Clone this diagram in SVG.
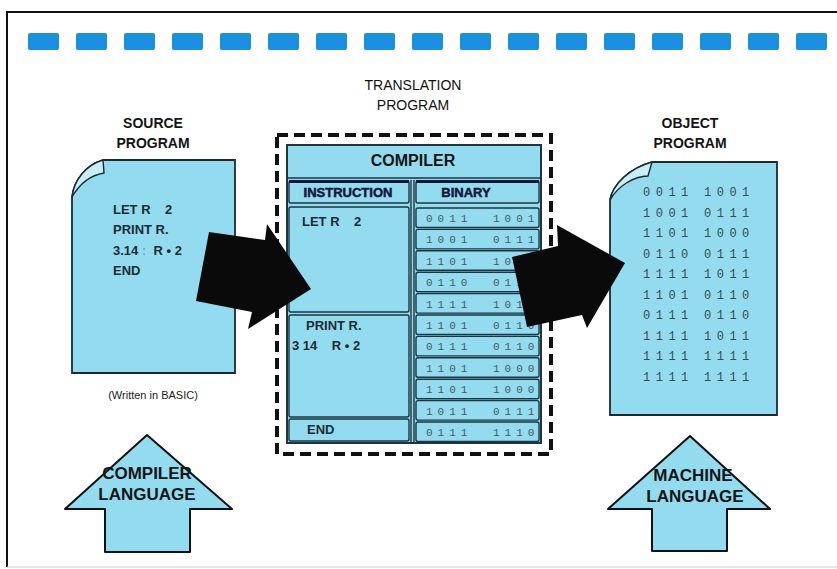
<svg xmlns="http://www.w3.org/2000/svg" width="837" height="569" viewBox="0 0 837 569">
<style>
.lbl{font-family:"Liberation Sans",Arial,sans-serif;font-weight:bold;fill:#141414;text-anchor:middle}
.code{font-family:"Liberation Sans",Arial,sans-serif;font-weight:bold;font-size:13px;fill:#1c2a33;white-space:pre}
.bin{font-family:"Liberation Mono","DejaVu Sans Mono",monospace;font-size:11px;letter-spacing:5px;fill:#4a5a62}
.obin{font-family:"Liberation Mono","DejaVu Sans Mono",monospace;font-size:12px;letter-spacing:5.5px;fill:#3a4a52}
.doc{fill:#93dcef;stroke:#1e2a30;stroke-width:1.8}
.cell{fill:#93dcef;stroke:#1e3440;stroke-width:1.4}
.flap{fill:#c8eff8;stroke:#1e2a30;stroke-width:1.4}
.blk{fill:#0a0a0a}
.dash{fill:#1b8fe0}
.hdr{font-family:"Liberation Sans",Arial,sans-serif;font-weight:900;font-size:13px;fill:#16163a;stroke:#16163a;stroke-width:0.5;text-anchor:middle}
.thin{font-family:"Liberation Sans",Arial,sans-serif;font-size:14px;fill:#111;text-anchor:middle}
</style>
<rect width="837" height="569" fill="#ffffff"/>
<path d="M7,567 L7,12 L837,12" fill="none" stroke="#111" stroke-width="2"/>
<path d="M7,567 L837,567" fill="none" stroke="#cfcfcf" stroke-width="1"/>
<g id="blue-dashes">
<rect class="dash" x="28" y="33" width="31" height="17" rx="2"/>
<rect class="dash" x="76" y="33" width="31" height="17" rx="2"/>
<rect class="dash" x="124" y="33" width="31" height="17" rx="2"/>
<rect class="dash" x="172" y="33" width="31" height="17" rx="2"/>
<rect class="dash" x="220" y="33" width="31" height="17" rx="2"/>
<rect class="dash" x="268" y="33" width="31" height="17" rx="2"/>
<rect class="dash" x="316" y="33" width="31" height="17" rx="2"/>
<rect class="dash" x="364" y="33" width="31" height="17" rx="2"/>
<rect class="dash" x="412" y="33" width="31" height="17" rx="2"/>
<rect class="dash" x="460" y="33" width="31" height="17" rx="2"/>
<rect class="dash" x="508" y="33" width="31" height="17" rx="2"/>
<rect class="dash" x="556" y="33" width="31" height="17" rx="2"/>
<rect class="dash" x="604" y="33" width="31" height="17" rx="2"/>
<rect class="dash" x="652" y="33" width="31" height="17" rx="2"/>
<rect class="dash" x="700" y="33" width="31" height="17" rx="2"/>
<rect class="dash" x="748" y="33" width="31" height="17" rx="2"/>
<rect class="dash" x="796" y="33" width="31" height="17" rx="2"/>
</g>

<g id="source-program">
<text class="lbl" x="153" y="128" font-size="14">SOURCE</text>
<text class="lbl" x="153" y="148" font-size="14">PROGRAM</text>
<path class="doc" d="M103,160 L235,160 L235,373 L72,373 L72,197 C74,180 86,165 103,160 Z"/>
<path class="flap" d="M72,197 C80,183 92,175 104,173 L103,160 C86,165 74,180 72,197 Z"/>
<text class="code" x="113" y="214">LET R    2</text>
<text class="code" x="113" y="234">PRINT R.</text>
<text class="code" x="113" y="255">3.14 <tspan fill="#8aa0a8">:</tspan>  R • 2</text>
<text class="code" x="113" y="275">END</text>
<text x="153" y="399" font-family="Liberation Sans,Arial,sans-serif" font-size="11" fill="#222" text-anchor="middle">(Written in BASIC)</text>
</g>

<g id="translation-program">
<text class="thin" x="413" y="90">TRANSLATION</text>
<text class="thin" x="413" y="110">PROGRAM</text>
<rect x="277" y="135" width="274" height="319" fill="none" stroke="#111" stroke-width="4" stroke-dasharray="11,6"/>
<rect x="287" y="145" width="254" height="298" fill="#93dcef" stroke="#1e3440" stroke-width="2"/>
<line x1="287" y1="178" x2="541" y2="178" stroke="#1e3440" stroke-width="1.5"/>
<text class="lbl" x="413" y="166" font-size="16">COMPILER</text>
<rect class="cell" x="289" y="181" width="120" height="22" rx="2"/>
<line x1="289" y1="181.5" x2="409" y2="181.5" stroke="#16163a" stroke-width="3"/>
<rect class="cell" x="416" y="181" width="123" height="22" rx="2"/>
<line x1="416" y1="181.5" x2="539" y2="181.5" stroke="#16163a" stroke-width="3"/>
<text class="hdr" x="348" y="197">INSTRUCTION</text>
<text class="hdr" x="466" y="197">BINARY</text>
<line x1="411" y1="180" x2="411" y2="443" stroke="#1e3440" stroke-width="1.4"/>
<line x1="414" y1="180" x2="414" y2="443" stroke="#1e3440" stroke-width="1.4"/>
<rect class="cell" x="289" y="207" width="120" height="105" rx="2"/>
<rect class="cell" x="289" y="315" width="120" height="102" rx="2"/>
<rect class="cell" x="289" y="419" width="120" height="22" rx="2"/>
<text class="code" x="302" y="226">LET R    2</text>
<text class="code" x="306" y="330">PRINT R.</text>
<text class="code" x="292" y="350">3 14    R • 2</text>
<text class="code" x="307" y="434">END</text>
<g>
<rect class="cell" x="416" y="208" width="123" height="19.5" rx="2"/>
<rect class="cell" x="416" y="229.4" width="123" height="19.5" rx="2"/>
<rect class="cell" x="416" y="250.8" width="123" height="19.5" rx="2"/>
<rect class="cell" x="416" y="272.2" width="123" height="19.5" rx="2"/>
<rect class="cell" x="416" y="293.6" width="123" height="19.5" rx="2"/>
<rect class="cell" x="416" y="315" width="123" height="19.5" rx="2"/>
<rect class="cell" x="416" y="336.4" width="123" height="19.5" rx="2"/>
<rect class="cell" x="416" y="357.8" width="123" height="19.5" rx="2"/>
<rect class="cell" x="416" y="379.2" width="123" height="19.5" rx="2"/>
<rect class="cell" x="416" y="400.6" width="123" height="19.5" rx="2"/>
<rect class="cell" x="416" y="422" width="123" height="19.5" rx="2"/>
</g>
<g>
<text class="bin" x="426" y="222">0011</text><text class="bin" x="493" y="222">1001</text>
<text class="bin" x="426" y="243.4">1001</text><text class="bin" x="493" y="243.4">0111</text>
<text class="bin" x="426" y="264.8">1101</text><text class="bin" x="493" y="264.8">1000</text>
<text class="bin" x="426" y="286.2">0110</text><text class="bin" x="493" y="286.2">0111</text>
<text class="bin" x="426" y="307.6">1111</text><text class="bin" x="493" y="307.6">1011</text>
<text class="bin" x="426" y="329">1101</text><text class="bin" x="493" y="329">0110</text>
<text class="bin" x="426" y="350.4">0111</text><text class="bin" x="493" y="350.4">0110</text>
<text class="bin" x="426" y="371.8">1101</text><text class="bin" x="493" y="371.8">1000</text>
<text class="bin" x="426" y="393.2">1101</text><text class="bin" x="493" y="393.2">1000</text>
<text class="bin" x="426" y="414.6">1011</text><text class="bin" x="493" y="414.6">0111</text>
<text class="bin" x="426" y="436">0111</text><text class="bin" x="493" y="436">1110</text>
</g>
</g>

<g id="object-program">
<text class="lbl" x="690" y="128" font-size="14">OBJECT</text>
<text class="lbl" x="690" y="148" font-size="14">PROGRAM</text>
<path class="doc" d="M652,162 L777,162 L777,415 L610,415 L610,200 C613,184 630,168 652,162 Z"/>
<path class="flap" d="M610,200 C618,186 634,176 648,176 L652,162 C630,168 613,184 610,200 Z"/>
<g>
<text class="obin" x="643" y="196">0011</text><text class="obin" x="704" y="196">1001</text>
<text class="obin" x="643" y="216.5">1001</text><text class="obin" x="704" y="216.5">0111</text>
<text class="obin" x="643" y="237">1101</text><text class="obin" x="704" y="237">1000</text>
<text class="obin" x="643" y="257.5">0110</text><text class="obin" x="704" y="257.5">0111</text>
<text class="obin" x="643" y="278">1111</text><text class="obin" x="704" y="278">1011</text>
<text class="obin" x="643" y="298.5">1101</text><text class="obin" x="704" y="298.5">0110</text>
<text class="obin" x="643" y="319">0111</text><text class="obin" x="704" y="319">0110</text>
<text class="obin" x="643" y="339.5">1111</text><text class="obin" x="704" y="339.5">1011</text>
<text class="obin" x="643" y="360">1111</text><text class="obin" x="704" y="360">1111</text>
<text class="obin" x="643" y="380.5">1111</text><text class="obin" x="704" y="380.5">1111</text>
</g>
</g>

<g id="compiler-language">
<path d="M147,435 L232,509 L190,509 L190,552 L105,552 L105,509 L65,509 Z" fill="#93dcef" stroke="#111" stroke-width="2" stroke-linejoin="round"/>
<text class="lbl" x="147" y="479" font-size="17">COMPILER</text>
<text class="lbl" x="147" y="500" font-size="17">LANGUAGE</text>
</g>

<g id="machine-language">
<path d="M690,436 L770,509 L727,509 L727,551 L652,551 L652,509 L608,509 Z" fill="#93dcef" stroke="#111" stroke-width="2" stroke-linejoin="round"/>
<text class="lbl" x="693" y="481" font-size="17">MACHINE</text>
<text class="lbl" x="695" y="502" font-size="17">LANGUAGE</text>
</g>

<g id="connectors">
<path class="blk" d="M209,232 L265,240 L267,224 L311,289 L248,329 L252,312 L196,301 Z"/>
<path class="blk" d="M512,257 L558,246 L557,225 L625,263 L587,328 L582,315 L527,327 Z"/>
</g>
</svg>
